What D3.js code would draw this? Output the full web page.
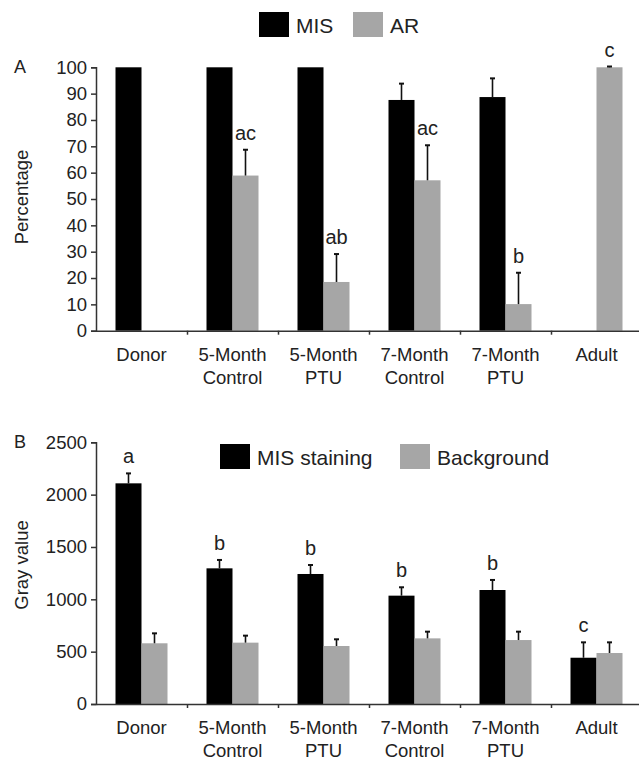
<!DOCTYPE html>
<html>
<head>
<meta charset="utf-8">
<script src="https://cdn.jsdelivr.net/npm/d3@7"></script>
<style>
  body { margin: 0; background: #fff; }
  text { font-family: "Liberation Sans", Arial, sans-serif; fill: #222; }
</style>
</head>
<body>
<div id="chart"></div>
<script>
var groups = ["Donor", "5-Month Control", "5-Month PTU", "7-Month Control", "7-Month PTU", "Adult"];
var groupLines = [["Donor"], ["5-Month", "Control"], ["5-Month", "PTU"], ["7-Month", "Control"], ["7-Month", "PTU"], ["Adult"]];

// panel A: percentage
var misA = [100, 100, 100, 87.6, 88.7, 0];
var misAErr = [0, 0, 0, 6.2, 7.1, 0];
var arA = [0, 58.9, 18.5, 57.1, 10.1, 100];
var arAErr = [0, 9.8, 10.6, 13.3, 11.9, 0.3];
var arALetters = ["", "ac", "ab", "ac", "b", "c"];
var ticksA = [0, 10, 20, 30, 40, 50, 60, 70, 80, 90, 100];

// panel B: gray value
var misB = [2108, 1296, 1242, 1035, 1089, 442];
var misBErr = [95, 80, 86, 80, 96, 147];
var bgB = [580, 586, 554, 627, 611, 487];
var bgBErr = [95, 67, 64, 64, 80, 102];
var misBLetters = ["a", "b", "b", "b", "b", "c"];
var ticksB = [0, 500, 1000, 1500, 2000, 2500];

var W = 639, H = 767;
var BLACK = "#000", GRAY = "#a6a6a6";

var svg = d3.select("#chart").append("svg")
    .attr("width", W).attr("height", H);

var x = d3.scaleBand().domain(groups).range([96, 642]);
var xIdx = d3.scaleLinear().domain([0, groups.length]).range([96, 642]);
var x1 = d3.scaleBand().domain(["s0", "s1"]).range([0, x.bandwidth()]).paddingOuter(0.75);

function panel(opts) {
    var y = d3.scaleLinear().domain(opts.domain).range([opts.bottom, opts.top]);
    var g = svg.append("g");

    // bars
    opts.series.forEach(function(s, si) {
        var key = "s" + si;
        g.selectAll(".bar" + si).data(s.values).enter().append("rect")
            .attr("x", function(d, i) { return x(groups[i]) + x1(key); })
            .attr("width", x1.bandwidth())
            .attr("y", function(d) { return y(d); })
            .attr("height", function(d) { return y(0) - y(d); })
            .attr("fill", s.color);

        // error bars (upward only)
        s.values.forEach(function(v, i) {
            var e = s.err[i];
            if (!e) return;
            var cx = x(groups[i]) + x1(key) + x1.bandwidth() / 2;
            g.append("line").attr("x1", cx).attr("x2", cx)
                .attr("y1", y(v)).attr("y2", y(v + e))
                .attr("stroke", "#111").attr("stroke-width", 1.6);
            g.append("line").attr("x1", cx - 2.5).attr("x2", cx + 2.5)
                .attr("y1", y(v + e)).attr("y2", y(v + e))
                .attr("stroke", "#111").attr("stroke-width", 2);
        });

        if (s.letters) {
            s.values.forEach(function(v, i) {
                if (!s.letters[i]) return;
                var cx = x(groups[i]) + x1(key) + x1.bandwidth() / 2;
                g.append("text").attr("x", cx).attr("y", y(v + s.err[i]) - 10)
                    .attr("text-anchor", "middle").attr("font-size", 20)
                    .text(s.letters[i]);
            });
        }
    });

    // y axis
    var ya = g.append("g").attr("transform", "translate(96,0)")
        .call(d3.axisLeft(y).tickValues(opts.ticks).tickFormat(d3.format("d")).tickSize(5).tickPadding(4));
    ya.selectAll("text").attr("font-size", 18.5).attr("font-family", "Liberation Sans, Arial, sans-serif").attr("fill", "#222");
    ya.selectAll("line, path").attr("stroke", "#333").attr("stroke-width", 1.5);

    // x axis with ticks between groups
    var xa = g.append("g").attr("transform", "translate(0," + opts.bottom + ")")
        .call(d3.axisBottom(xIdx).tickValues([1, 2, 3, 4, 5]).tickSize(4).tickSizeOuter(0).tickFormat(""));
    xa.selectAll("line, path").attr("stroke", "#333").attr("stroke-width", 1.5);

    groupLines.forEach(function(lines, i) {
        var t = g.append("text").attr("x", x(groups[i]) + x.bandwidth() / 2)
            .attr("y", opts.bottom + 30).attr("text-anchor", "middle").attr("font-size", 18.5);
        lines.forEach(function(l, li) {
            t.append("tspan").attr("x", x(groups[i]) + x.bandwidth() / 2)
                .attr("dy", li === 0 ? 0 : 23).text(l);
        });
    });

    // panel letter and y title
    g.append("text").attr("x", 20).attr("y", opts.top + 6).attr("text-anchor", "middle")
        .attr("font-size", 18).text(opts.letter);
    g.append("text").attr("transform", "translate(28," + opts.titleY + ") rotate(-90)")
        .attr("text-anchor", "middle").attr("font-size", 18.5).text(opts.title);

    // legend
    opts.legend.forEach(function(it) {
        g.append("rect").attr("x", it.x).attr("y", opts.legendY)
            .attr("width", 30).attr("height", 25).attr("fill", it.color);
        g.append("text").attr("x", it.x + 37).attr("y", opts.legendY + 21)
            .attr("font-size", 21).text(it.label);
    });
}

panel({
    domain: [0, 100], top: 67.3, bottom: 330.7, ticks: ticksA,
    series: [
        { values: misA, err: misAErr, color: BLACK },
        { values: arA, err: arAErr, color: GRAY, letters: arALetters }
    ],
    letter: "A", title: "Percentage", titleY: 197,
    legendY: 12,
    legend: [{ x: 259, label: "MIS", color: BLACK }, { x: 353, label: "AR", color: GRAY }]
});

panel({
    domain: [0, 2500], top: 442.3, bottom: 704, ticks: ticksB,
    series: [
        { values: misB, err: misBErr, color: BLACK, letters: misBLetters },
        { values: bgB, err: bgBErr, color: GRAY }
    ],
    letter: "B", title: "Gray value", titleY: 565,
    legendY: 444,
    legend: [{ x: 220, label: "MIS staining", color: BLACK }, { x: 400, label: "Background", color: GRAY }]
});
</script>
</body>
</html>
